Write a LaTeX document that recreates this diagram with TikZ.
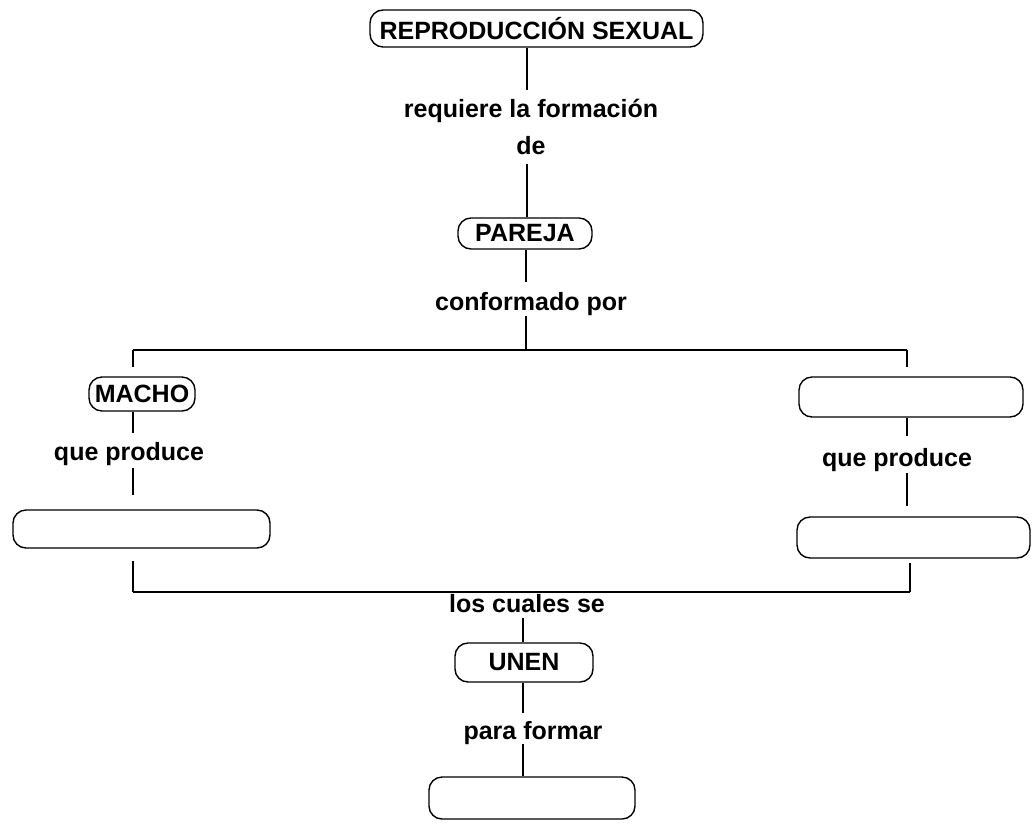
\documentclass[tikz,border=0pt]{standalone}
\usepackage{fontspec}
\setmainfont{Liberation Sans}
\begin{document}
\begin{tikzpicture}[x=1pt,y=-1pt,
  txt/.style={font=\bfseries\fontsize{25}{30}\selectfont},
  cbox/.style={txt, draw, line width=1.4pt, rounded corners=13pt, inner sep=0pt},
  lbl/.style={txt, inner sep=0pt, anchor=base, text height=18pt, text depth=5pt},
  conn/.style={line width=1.5pt}]
\useasboundingbox (0,0) rectangle (1032,825);
% column coordinates
\coordinate (xa) at (527,0);
\coordinate (xb) at (526,0);
\coordinate (xl) at (133,0);
\coordinate (xr) at (907,0);
\coordinate (xr2) at (910,0);
\coordinate (xc) at (523,0);
% concept boxes
\node[cbox, minimum width=333pt, minimum height=37pt] (rs) at (536.5,28.5) {REPRODUCCIÓN SEXUAL};
\node[cbox, minimum width=134pt, minimum height=31pt] (pareja) at (525,233.5) {PAREJA};
\node[cbox, minimum width=106pt, minimum height=34pt] (macho) at (142,394) {MACHO};
\node[cbox, minimum width=224pt, minimum height=40pt] (hembra) at (911,397) {};
\node[cbox, minimum width=257pt, minimum height=38pt] (esp) at (141.5,529) {};
\node[cbox, minimum width=233pt, minimum height=41pt] (ovulo) at (913.5,537.5) {};
\node[cbox, minimum width=138pt, minimum height=39pt] (unen) at (524,662.5) {UNEN};
\node[cbox, minimum width=206pt, minimum height=42pt] (cigoto) at (532,798) {};
% linking phrases
\node[lbl] (l1a) at (531,117) {requiere la formación};
\node[lbl] (l1b) at (531,154) {de};
\node[lbl] (l2) at (531,310) {conformado por};
\node[lbl] (l3) at (129,460) {que produce};
\node[lbl] (l4) at (897,466) {que produce};
\node[lbl] (l5) at (527,612) {los cuales se};
\node[lbl] (l6) at (533,739) {para formar};
% junctions
\coordinate (jm) at (526,350);
\coordinate (jl) at (133,350);
\coordinate (jr) at (907,350);
\coordinate (kl) at (133,592);
\coordinate (kr) at (910,592);
% connectors
\draw[conn, shorten >=9pt] (rs.south -| xa) -- (l1a.north -| xa);
\draw[conn, shorten <=5pt] (l1b.south -| xa) -- (pareja.north -| xa);
\draw[conn, shorten >=10pt] (pareja.south -| xb) -- (l2.north -| xb);
\draw[conn, shorten <=1pt] (l2.south -| xb) -- (jm);
\draw[conn] (jl) -- (jr);
\draw[conn, shorten >=9pt] (jl) -- (macho.north -| xl);
\draw[conn, shorten >=9pt] (jr) -- (hembra.north -| xr);
\draw[conn, shorten >=9pt] (macho.south -| xl) -- (l3.north -| xl);
\draw[conn, shorten <=3pt, shorten >=14pt] (l3.south -| xl) -- (esp.north -| xl);
\draw[conn, shorten <=12pt] (esp.south -| xl) -- (kl);
\draw[conn, shorten >=12pt] (hembra.south -| xr) -- (l4.north -| xr);
\draw[conn, shorten <=2pt, shorten >=10pt] (l4.south -| xr) -- (ovulo.north -| xr);
\draw[conn, shorten <=4pt] (ovulo.south -| xr2) -- (kr);
\draw[conn] (kl) -- (kr);
\draw[conn, shorten <=1pt] (l5.south -| xc) -- (unen.north -| xc);
\draw[conn, shorten >=8pt] (unen.south -| xc) -- (l6.north -| xc);
\draw[conn] (l6.south -| xc) -- (cigoto.north -| xc);
\end{tikzpicture}
\end{document}
